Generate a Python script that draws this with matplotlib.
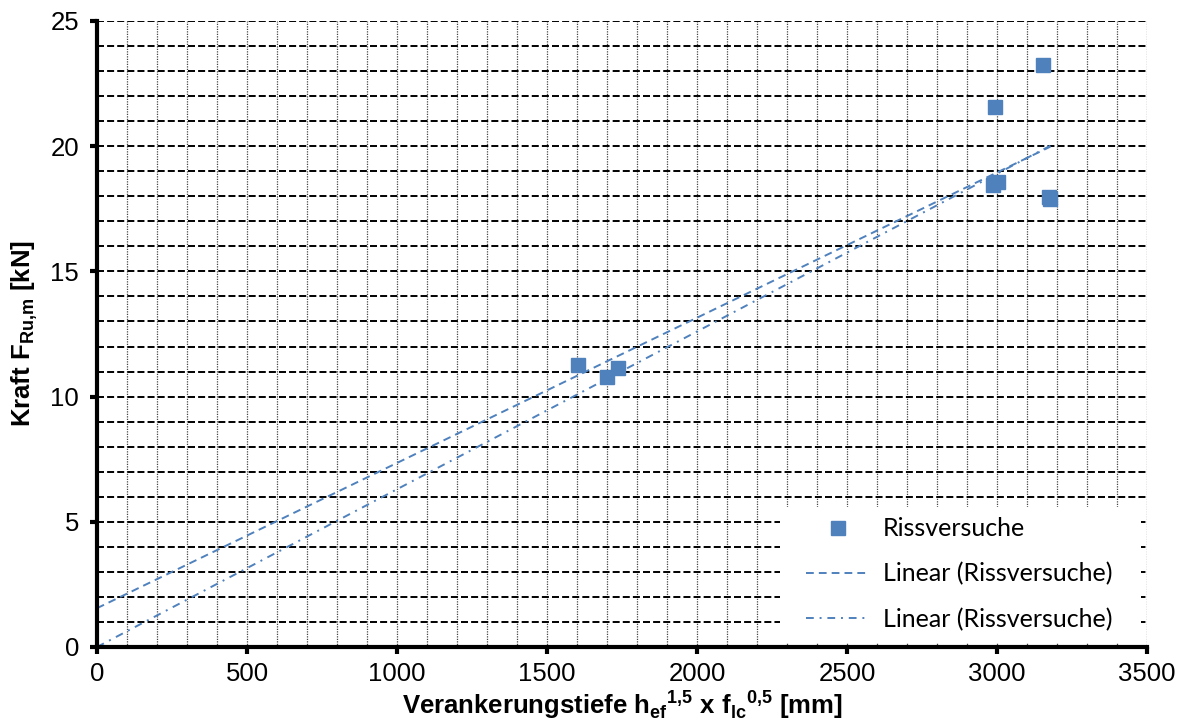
import numpy as np
import matplotlib
matplotlib.use("Agg")
import matplotlib.pyplot as plt
from matplotlib.ticker import MultipleLocator
from matplotlib.patches import Rectangle

# Rissversuche
x_riss = [1603, 1700, 1737, 2987, 2993, 3003, 3153, 3173, 3178]
y_riss = [11.26, 10.78, 11.14, 18.45, 21.57, 18.57, 23.24, 17.97, 17.90]

# Excel trendlines
trend1_slope, trend1_intercept = 0.00580, 1.55   # dashed
trend2_slope = 0.00630                            # dash-dot, through origin

legend_labels = ['Rissversuche', 'Linear (Rissversuche)', 'Linear (Rissversuche)']
blue = '#4F81BD'

plt.rcParams['font.family'] = ['Liberation Sans', 'DejaVu Sans']
plt.rcParams['mathtext.fontset'] = 'custom'
plt.rcParams['mathtext.bf'] = 'Liberation Sans:bold'
plt.rcParams['mathtext.rm'] = 'Liberation Sans:bold'

fig = plt.figure(figsize=(11.93, 7.24), dpi=100)
ax = fig.add_axes([97 / 1193, 77 / 724, 1050 / 1193, 626 / 724])

x = np.array(x_riss)
y = np.array(y_riss)
xt = np.array([0, x.max()])

ax.plot(x, y, 's', color=blue, markersize=10, label=legend_labels[0], zorder=3)
ax.plot(xt, trend1_slope * xt + trend1_intercept, color=blue, lw=1.4,
        linestyle=(0, (4, 2.6)), label=legend_labels[1], zorder=2)
ax.plot(xt, trend2_slope * xt, color=blue, lw=1.4,
        linestyle=(0, (4, 3, 1, 3)), label=legend_labels[2], zorder=2)

ax.set_xlim(0, 3500)
ax.set_ylim(0, 25)
ax.xaxis.set_major_locator(MultipleLocator(500))
ax.xaxis.set_minor_locator(MultipleLocator(100))
ax.yaxis.set_major_locator(MultipleLocator(5))
ax.yaxis.set_minor_locator(MultipleLocator(1))

ax.set_axisbelow(True)
ax.grid(axis='y', which='both', color='black', lw=1.4, linestyle=(0, (3.6, 1.6)))
ax.grid(axis='x', which='both', color='#444444', lw=0.9, linestyle=(0, (1, 1)))

for s in ['top', 'right']:
    ax.spines[s].set_visible(False)
for s in ['left', 'bottom']:
    ax.spines[s].set_linewidth(3)

ax.tick_params(which='major', direction='out', length=5, width=3, labelsize=18.5)
ax.tick_params(axis='x', which='major', pad=6)
ax.tick_params(axis='y', which='major', pad=8)
ax.tick_params(which='minor', length=0)

ax.set_xlabel(r'Verankerungstiefe h$_{\mathbf{ef}}$$^{\mathbf{1{,}5}}$ x f$_{\mathbf{lc}}$$^{\mathbf{0{,}5}}$ [mm]',
              fontsize=18.5, fontweight='bold', labelpad=1)
ax.set_ylabel(r'Kraft F$_{\mathbf{Ru{,}m}}$ [kN]', fontsize=18.5, fontweight='bold', labelpad=7)

# white legend area (Excel plot-area legend box)
ax.add_patch(Rectangle((0.6505, 0.0064), 0.3438, 0.2172, transform=ax.transAxes,
                       facecolor='white', edgecolor='none', zorder=1.5))

leg = ax.legend(loc='lower right', bbox_to_anchor=(0.9786, 0.0056), prop={'family': 'Lato', 'size': 18},
                frameon=False, handlelength=2.56, handletextpad=0.52, labelspacing=0.88,
                borderpad=0.5, borderaxespad=0.0)

fig.savefig('out.png', dpi=100)
